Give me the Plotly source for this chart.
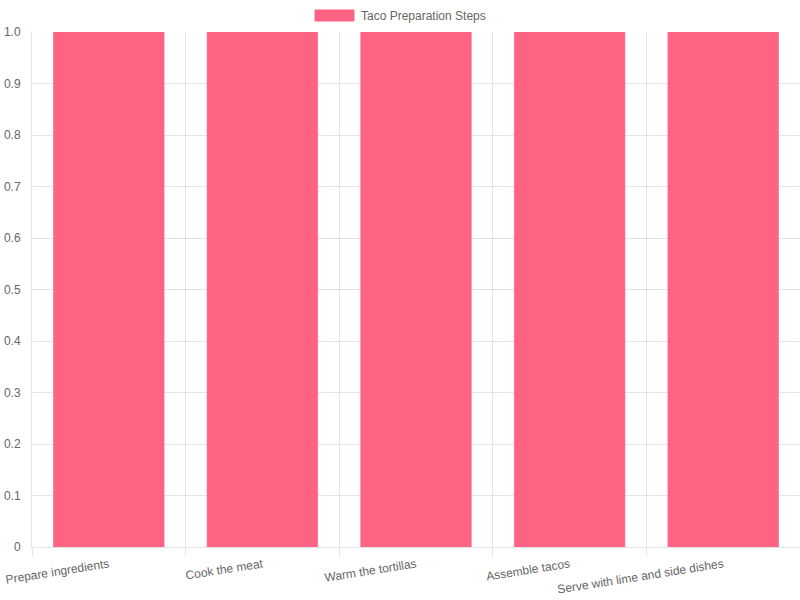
import plotly.graph_objects as go

steps = [
    "Prepare ingredients",
    "Cook the meat",
    "Warm the tortillas",
    "Assemble tacos",
    "Serve with lime and side dishes",
]
values = [1, 1, 1, 1, 1]
series_name = "Taco Preparation Steps"
y_ticks = [0, 0.1, 0.2, 0.3, 0.4, 0.5, 0.6, 0.7, 0.8, 0.9, 1.0]
y_tick_labels = ["0", "0.1", "0.2", "0.3", "0.4", "0.5", "0.6", "0.7", "0.8", "0.9", "1.0"]

BAR_COLOR = "#FF6384"
GRID = "rgba(0,0,0,0.1)"
FONT = "Liberation Sans, Arial, sans-serif"

fig = go.Figure(go.Bar(
    x=steps, y=values, name=series_name,
    marker=dict(color=BAR_COLOR, line=dict(color="rgba(255,99,132,0.6)", width=1)),
    showlegend=False,
))

# chart.js-style wide legend swatch
fig.add_shape(type="rect", xref="paper", yref="paper",
              x0=(315 - 32) / 768, x1=(354 - 32) / 768,
              y0=(547 - 21) / 515, y1=(547 - 10) / 515,
              fillcolor=BAR_COLOR, line=dict(color=BAR_COLOR, width=1))
fig.add_annotation(text=series_name, xref="paper", yref="paper",
                   x=(359 - 32) / 768, y=(547 - 15.5) / 515,
                   xanchor="left", yanchor="middle", showarrow=False,
                   font=dict(size=12, color="#666", family=FONT))

fig.update_layout(
    width=800, height=600,
    template="plotly_white",
    plot_bgcolor="white", paper_bgcolor="white",
    font=dict(family=FONT, size=12, color="#666"),
    margin=dict(l=32, r=0, t=32, b=53),
    bargap=0.28,
    xaxis=dict(
        tickson="boundaries", ticks="outside", ticklen=8, tickcolor=GRID,
        showgrid=True, gridcolor=GRID, showline=True, linecolor=GRID,
        tickangle=-9, ticklabelstandoff=5, tickfont=dict(size=12, color="#666"),
        zeroline=False, automargin=False,
    ),
    yaxis=dict(
        range=[0, 1], tickvals=y_ticks, ticktext=y_tick_labels,
        showgrid=True, gridcolor=GRID, showline=True, linecolor=GRID,
        ticks="", ticklabelstandoff=8, zeroline=False, automargin=False,
        tickfont=dict(size=12, color="#666"),
    ),
)

# drop the browser's default 8px body margin so the figure sits at the page corner
fig.write_html("out.html", config={"displayModeBar": False},
               post_script="document.body.style.margin='0';")
